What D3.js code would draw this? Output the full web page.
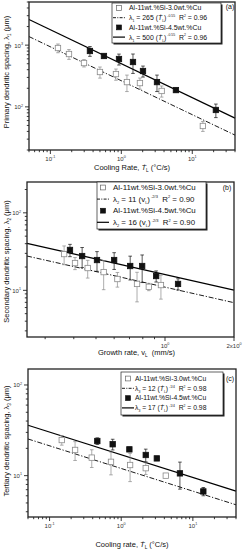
<!DOCTYPE html>
<html><head><meta charset="utf-8">
<script src="https://cdn.jsdelivr.net/npm/d3@7"></script>
<style>body{margin:0;background:#fff}svg{display:block;font-family:Arial,"Liberation Sans",sans-serif}</style>
</head><body><svg width="243" height="550"></svg>
<script>
// ---------- Panel (a): primary spacing vs cooling rate ----------
const aRateOpen = [0.128, 0.183, 0.298, 0.50, 0.84, 1.20, 1.83, 3.70, 14.1];
const aLambdaOpen = [898, 718, 513, 367, 340, 252, 243, 181, 49];
const aErrOpen = [145, 130, 70, 75, 70, 75, 50, 37, 9];
const aRateFilled = [0.361, 0.569, 0.927, 1.46, 2.02, 3.18, 5.88, 21.5];
const aLambdaFilled = [804, 667, 596, 533, 381, 252, 187, 89];
const aErrFilled = [145, 50, 120, 185, 77, 75, 14, 22];
const aFit = [265, 500]; const aExp = -0.55;

// ---------- Panel (b): secondary spacing vs growth rate ----------
const bRateOpen = [0.363, 0.405, 0.46, 0.54, 0.62, 0.755, 0.85, 0.96];
const bLambdaOpen = [29.4, 22.5, 19.4, 17.2, 14.0, 12.1, 11.1, 11.7];
const bErrOpen = [8, 4, 5, 7, 3, 5, 1.2, 4];
const bRateFilled = [0.385, 0.435, 0.505, 0.60, 0.705, 0.795, 0.915, 1.14];
const bLambdaFilled = [33.2, 27.7, 24.6, 24.6, 20.6, 20.6, 15.3, 12.1];
const bErrFilled = [6, 8, 7, 6, 7, 8, 2.5, 2];
const bFit = [11, 16]; const bExp = -2/3;

// ---------- Panel (c): tertiary spacing vs cooling rate ----------
const cRateOpen = [0.148, 0.227, 0.388, 0.72, 1.33, 2.2, 4.19];
const cLambdaOpen = [24.7, 19.2, 15.8, 14.2, 13.1, 12.1, 10.0];
const cErrOpen = [3, 4.5, 3.5, 4, 4.5, 1.8, 0.4];
const cRateFilled = [0.464, 0.76, 1.3, 2.2, 3.14, 6.6, 14];
const cLambdaFilled = [24.1, 22.2, 19.5, 16.9, 15.5, 10.6, 6.7];
const cErrFilled = [2, 3, 1, 2.7, 0.8, 3.5, 0.7];
const cFit = [12, 17]; const cExp = -0.25;

const alloys = ["Al-11wt.%Si-3.0wt.%Cu", "Al-11wt.%Si-4.5wt.%Cu"];

const svg = d3.select("svg");

function rich(sel, parts, fs, supScale) {
  const ss = supScale || 0.62;
  let shift = 0;
  parts.forEach(p => {
    const target = p.sub ? fs * 0.3 : p.sup ? -fs * 0.45 : 0;
    const ts = sel.append("tspan").attr("dy", target - shift).text(p.t);
    if (p.sub || p.sup) ts.attr("font-size", fs * ss);
    if (p.it) ts.attr("font-style", "italic");
    shift = target;
  });
}

function panel(p) {
  const x = d3.scaleLog().domain(p.xDomain).range([p.left, p.right]);
  const y = d3.scaleLog().domain(p.yDomain).range([p.bottom, p.top]);
  const g = svg.append("g");
  const isPow = v => Math.abs(Math.log10(v) - Math.round(Math.log10(v))) < 1e-6;

  x.ticks().forEach(t => {
    const maj = isPow(t) || (p.xMajorExtra || []).includes(t);
    g.append("line").attr("x1", x(t)).attr("x2", x(t)).attr("y1", p.bottom).attr("y2", p.bottom + (maj ? 4 : 2.2))
      .attr("stroke", "#222").attr("stroke-width", 0.9);
  });
  y.ticks().forEach(t => {
    const maj = isPow(t);
    g.append("line").attr("y1", y(t)).attr("y2", y(t)).attr("x1", p.left).attr("x2", p.left - (maj ? 4 : 2.2))
      .attr("stroke", "#222").attr("stroke-width", 0.9);
  });
  p.xLabels.forEach(([v, base, sup]) => {
    const t = g.append("text").attr("x", x(v)).attr("y", p.bottom + 11).attr("text-anchor", "middle")
      .attr("font-size", 6).attr("fill", "#333");
    rich(t, [{t: base}, {t: sup, sup: true}], 6);
  });
  p.yLabels.forEach(([v, base, sup]) => {
    const t = g.append("text").attr("x", p.left - 6).attr("y", y(v) + 2.5).attr("text-anchor", "end")
      .attr("font-size", 6).attr("fill", "#333");
    rich(t, [{t: base}, {t: sup, sup: true}], 6);
  });

  const fitLine = d3.line().x(d => x(d[0])).y(d => y(d[1]));
  p.fit.forEach((A, i) => {
    const pts = p.xDomain.map(v => [v, A * Math.pow(v, p.exp)]);
    g.append("path").attr("d", fitLine(pts)).attr("fill", "none").attr("stroke", "#000")
      .attr("stroke-width", i === 0 ? 0.9 : 1.2)
      .attr("stroke-dasharray", i === 0 ? "5,1.8,1.2,1.8" : null);
  });

  const series = [
    {xs: p.open[0], ys: p.open[1], es: p.open[2], filled: false},
    {xs: p.filled[0], ys: p.filled[1], es: p.filled[2], filled: true}
  ];
  series.forEach(s => {
    const col = s.filled ? "#111" : "#8a8a8a";
    s.xs.forEach((xv, i) => {
      const cx = x(xv), y0 = y(s.ys[i]);
      const yt = y(s.ys[i] + s.es[i]), yb = y(Math.max(s.ys[i] - s.es[i], p.yDomain[0]));
      g.append("line").attr("x1", cx).attr("x2", cx).attr("y1", yt).attr("y2", yb).attr("stroke", col).attr("stroke-width", 0.7);
      [yt, yb].forEach(yy => g.append("line").attr("x1", cx - 1.8).attr("x2", cx + 1.8).attr("y1", yy).attr("y2", yy)
        .attr("stroke", col).attr("stroke-width", 0.7));
      g.append("rect").attr("x", cx - 2.7).attr("y", y0 - 2.7).attr("width", 5.4).attr("height", 5.4)
        .attr("fill", s.filled ? "#111" : "#fff").attr("stroke", col).attr("stroke-width", 0.8);
    });
  });

  g.append("rect").attr("x", p.left).attr("y", p.top).attr("width", p.right - p.left).attr("height", p.bottom - p.top)
    .attr("fill", "none").attr("stroke", "#222").attr("stroke-width", 1.3);

  const L = p.legend;
  g.append("rect").attr("x", L.x + 1.5).attr("y", L.y + 1.5).attr("width", L.w).attr("height", L.h).attr("fill", "#222");
  g.append("rect").attr("x", L.x).attr("y", L.y).attr("width", L.w).attr("height", L.h).attr("fill", "#fff")
    .attr("stroke", "#222").attr("stroke-width", 0.7);
  L.rows.forEach((row, i) => {
    const ry = L.y + L.pad + i * L.dy;
    const sx = L.x + L.symX;
    if (row.sym === "open" || row.sym === "filled") {
      g.append("rect").attr("x", sx - 2.4).attr("y", ry - 2.4).attr("width", 4.8).attr("height", 4.8)
        .attr("fill", row.sym === "filled" ? "#111" : "#fff").attr("stroke", row.sym === "filled" ? "#111" : "#666").attr("stroke-width", 0.7);
    } else {
      g.append("line").attr("x1", sx - L.lineHalf).attr("x2", sx + L.lineHalf).attr("y1", ry).attr("y2", ry)
        .attr("stroke", "#000").attr("stroke-width", row.sym === "dash" ? 0.9 : 1.2)
        .attr("stroke-dasharray", row.sym === "dash" ? "3,1.3,1,1.3" : null);
    }
    const t = g.append("text").attr("x", L.x + L.textX).attr("y", ry + L.fs * 0.35).attr("font-size", L.fs).attr("fill", "#111");
    rich(t, row.parts, L.fs, 0.5);
  });
  g.append("text").attr("x", p.tag[0]).attr("y", p.tag[1]).attr("text-anchor", "middle").attr("font-size", 7)
    .attr("fill", "#111").text(p.tag[2]);

  const xt = g.append("text").attr("x", (p.left + p.right) / 2 + p.xTitleDx).attr("y", p.xTitleY).attr("text-anchor", "middle")
    .attr("font-size", 7.5).attr("fill", "#111");
  rich(xt, p.xTitle, 7.5);
  const yt = g.append("text").attr("transform", `translate(${p.yTitleX},${(p.top + p.bottom) / 2 + p.yTitleDy}) rotate(-90)`)
    .attr("text-anchor", "middle").attr("font-size", 7.5).attr("fill", "#111");
  rich(yt, p.yTitle, 7.5);
}

const sp = "\u00a0";
const TL = [{t: "T\u0307", it: true}, {t: "L", sub: true}];
const VL = [{t: "v"}, {t: "L", sub: true}];
function eq(sub, A, v, expTxt, r2) {
  return [{t: "\u03bb"}, {t: sub, sub: true}, {t: " = " + A + " ("}, ...v, {t: ")"}, {t: " " + expTxt, sup: true},
    {t: sp + sp + "R"}, {t: "2", sup: true}, {t: " = " + r2}];
}

panel({
  left: 29, right: 235, top: 2, bottom: 150,
  xDomain: [0.05, 40], yDomain: [20, 5000],
  xLabels: [[0.1, "10", "-1"], [1, "10", "0"], [10, "10", "1"]],
  yLabels: [[100, "10", "2"], [1000, "10", "3"]],
  fit: aFit, exp: aExp,
  open: [aRateOpen, aLambdaOpen, aErrOpen], filled: [aRateFilled, aLambdaFilled, aErrFilled],
  legend: {x: 112, y: 3, w: 109, h: 40, pad: 5, dy: 9.7, symX: 7, lineHalf: 6, textX: 17, fs: 6.9, rows: [
    {sym: "open", parts: [{t: alloys[0]}]},
    {sym: "dash", parts: eq("1", 265, TL, "-0.55", "0.96")},
    {sym: "filled", parts: [{t: alloys[1]}]},
    {sym: "solid", parts: eq("1", 500, TL, "-0.55", "0.96")}
  ]},
  tag: [230, 9, "(a)"],
  xTitle: [{t: "Cooling Rate, "}, ...TL, {t: " (\u00b0C/s)"}], xTitleY: 170, xTitleDx: 0,
  yTitle: [{t: "Primary dendritic spacing,  \u03bb"}, {t: "1", sub: true}, {t: "  (\u03bcm)"}], yTitleX: 9, yTitleDy: -4
});

panel({
  left: 27, right: 234, top: 182, bottom: 337,
  xDomain: [0.25, 2], yDomain: [2.5, 250],
  xLabels: [[1, "10", "0"], [2, "2x10", "0"]], xMajorExtra: [2],
  yLabels: [[10, "10", "1"], [100, "10", "2"]],
  fit: bFit, exp: bExp,
  open: [bRateOpen, bLambdaOpen, bErrOpen], filled: [bRateFilled, bLambdaFilled, bErrFilled],
  legend: {x: 97, y: 182, w: 109, h: 47, pad: 5.5, dy: 11.6, symX: 6, lineHalf: 6, textX: 16, fs: 7.9, rows: [
    {sym: "open", parts: [{t: alloys[0]}]},
    {sym: "dash", parts: eq("2", 11, VL, "-2/3", "0.90")},
    {sym: "filled", parts: [{t: alloys[1]}]},
    {sym: "solid", parts: eq("2", 16, VL, "-2/3", "0.90")}
  ]},
  tag: [227, 190, "(b)"],
  xTitle: [{t: "Growth rate, v"}, {t: "L", sub: true}, {t: sp + sp + "(mm/s)"}], xTitleY: 355, xTitleDx: 6,
  yTitle: [{t: "Secondary dendritic spacing,  \u03bb"}, {t: "2", sub: true}, {t: "  (\u03bcm)"}], yTitleX: 9, yTitleDy: 2
});

panel({
  left: 28, right: 236, top: 369, bottom: 517,
  xDomain: [0.05, 40], yDomain: [3.5, 150],
  xLabels: [[0.1, "10", "-1"], [1, "10", "0"], [10, "10", "1"]],
  yLabels: [[10, "10", "1"], [100, "10", "2"]],
  fit: cFit, exp: cExp,
  open: [cRateOpen, cLambdaOpen, cErrOpen], filled: [cRateFilled, cLambdaFilled, cErrFilled],
  legend: {x: 121, y: 372, w: 102, h: 43, pad: 6.5, dy: 9.8, symX: 7, lineHalf: 6, textX: 14, fs: 6.8, rows: [
    {sym: "open", parts: [{t: alloys[0]}]},
    {sym: "dash", parts: eq("3", 12, TL, "-1/4", "0.98")},
    {sym: "filled", parts: [{t: alloys[1]}]},
    {sym: "solid", parts: eq("3", 17, TL, "-1/4", "0.98")}
  ]},
  tag: [230, 381, "(c)"],
  xTitle: [{t: "Cooling rate, "}, ...TL, {t: " (\u00b0C/s)"}], xTitleY: 547, xTitleDx: 0,
  yTitle: [{t: "Tertiary dendritic spacing,  \u03bb"}, {t: "3", sub: true}, {t: "  (\u03bcm)"}], yTitleX: 9, yTitleDy: -2
});
</script></body></html>
